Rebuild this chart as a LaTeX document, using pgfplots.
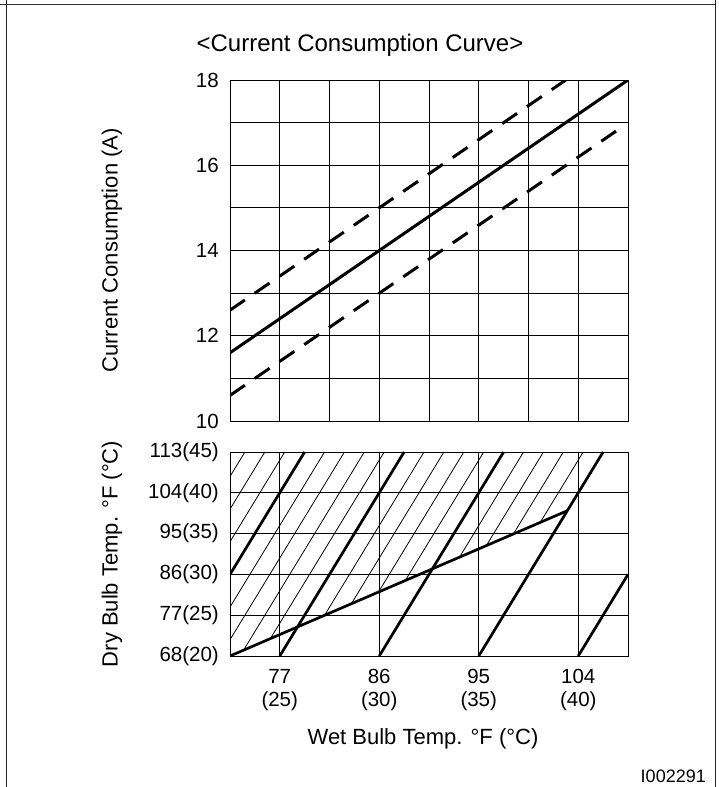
\documentclass[border=0pt]{standalone}
\usepackage{pgfplots}
\pgfplotsset{compat=1.18}
\usepackage{fontspec}
\setmainfont{Liberation Sans}

\newcommand\tickfont{\fontsize{20.5}{23}\selectfont}
\newcommand\labfont{\fontsize{22}{26}\selectfont}

\pgfplotsset{
  chartgrid/.style={
    scale only axis,
    xmin=22.5, xmax=42.5,
    axis line style={black, line width=0.9pt},
    major grid style={black, line width=0.9pt},
    minor grid style={black, line width=0.9pt},
    major tick length=0pt, minor tick length=0pt,
    tick style={draw=none},
    yticklabel style={font=\tickfont, inner sep=0pt, xshift=-11pt},
    ylabel style={font=\labfont, anchor=center},
  },
  thickline/.style={black, line width=2.7pt, no marks},
  hatch/.style={black, line width=0.8pt, no marks},
}

\begin{document}
\begin{tikzpicture}
\path[use as bounding box] (0pt,0pt) rectangle (718pt,787pt);

% outer frame
\draw[line width=1.8pt, black!80] (0pt,782.5pt) -- (716pt,782.5pt);
\draw[line width=1.8pt, black!85] (6.5pt,0pt) -- (6.5pt,787pt);
\draw[line width=1.8pt, black!85] (715.5pt,0pt) -- (715.5pt,787pt);

% upper chart: current consumption
\begin{axis}[chartgrid,
  at={(230pt,366pt)}, anchor=south west,
  width=398pt, height=341pt,
  ymin=10, ymax=18,
  xtick={22.5,25,...,42.5}, xticklabels={},
  ytick={10,12,14,16,18}, yticklabels={10,12,14,16,18},
  minor ytick={11,13,15,17},
  grid=both,
  ylabel={Current Consumption (A)},
  ylabel style={at={(axis description cs:-0.2965,0.5)}},
]
\addplot[black, line width=3pt, no marks] coordinates {(22.5,11.6) (42.5,18)};
\addplot[black, line width=3pt, no marks, dash pattern=on 18pt off 12pt] coordinates {(22.5,12.6) (39.375,18)};
\addplot[black, line width=3pt, no marks, dash pattern=on 18pt off 12pt] coordinates {(22.5,10.6) (41.9,16.8)};
\end{axis}

% lower chart: dry bulb / wet bulb
\begin{axis}[chartgrid,
  at={(230pt,131pt)}, anchor=south west,
  width=398pt, height=204pt,
  ymin=20, ymax=45,
  xtick={25,30,35,40},
  xticklabels={{77\\(25)},{86\\(30)},{95\\(35)},{104\\(40)}},
  xticklabel style={font=\tickfont, align=center, inner sep=0pt, yshift=-13pt},
  ytick={20,25,...,45},
  yticklabels={68(20),77(25),86(30),95(35),104(40),113(45)},
  grid=major,
  ylabel={Dry Bulb Temp. °F (°C)},
  ylabel style={at={(axis description cs:-0.2965,0.5)}},
]
% thin hatching
\addplot[hatch] coordinates {(22.5,42) (23.25,45)};
\addplot[hatch] coordinates {(22.5,38) (24.25,45)};
\addplot[hatch] coordinates {(22.5,34) (25.25,45)};
\addplot[hatch] coordinates {(22.5,26) (27.25,45)};
\addplot[hatch] coordinates {(22.5,22) (28.25,45)};
\addplot[hatch] coordinates {(23.18,20.71) (29.25,45)};
\addplot[hatch] coordinates {(24.53,22.14) (30.25,45)};
\addplot[hatch] coordinates {(27.25,24.98) (32.25,45)};
\addplot[hatch] coordinates {(28.60,26.41) (33.25,45)};
\addplot[hatch] coordinates {(29.96,27.83) (34.25,45)};
\addplot[hatch] coordinates {(31.31,29.26) (35.25,45)};
\addplot[hatch] coordinates {(34.03,32.10) (37.25,45)};
\addplot[hatch] coordinates {(35.38,33.53) (38.25,45)};
\addplot[hatch] coordinates {(36.74,34.95) (39.25,45)};
\addplot[hatch] coordinates {(38.09,36.37) (40.25,45)};
% thick lines
\addplot[thickline] coordinates {(22.5,30) (26.25,45)};
\addplot[thickline] coordinates {(25,20) (31.25,45)};
\addplot[thickline] coordinates {(30,20) (36.25,45)};
\addplot[thickline] coordinates {(35,20) (41.25,45)};
\addplot[thickline] coordinates {(40,20) (42.5,30)};
\addplot[thickline] coordinates {(22.5,20) (39.45,37.8)};
\end{axis}

\node[font=\fontsize{24}{28}\selectfont] at (360pt,742pt) {<Current Consumption Curve>};
\node[font=\labfont] at (423pt,48pt) {Wet Bulb Temp. °F (°C)};
\node[font=\fontsize{18}{21}\selectfont, anchor=base east, inner sep=0pt] at (706pt,5pt) {I002291};
\end{tikzpicture}
\end{document}
